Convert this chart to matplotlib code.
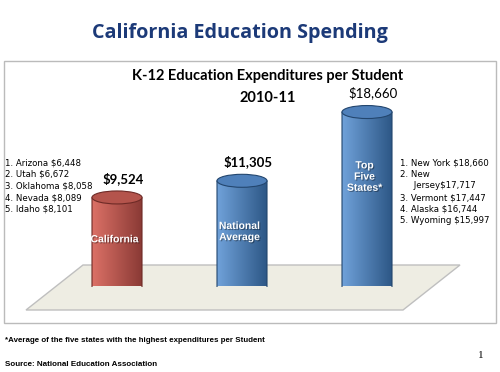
import numpy as np
import matplotlib
matplotlib.use('Agg')
import matplotlib.pyplot as plt
from matplotlib.patches import Ellipse, PathPatch, Polygon, Rectangle
from matplotlib.path import Path
import matplotlib.patheffects as pe
from matplotlib.colors import to_rgb


# Dados do gráfico
categorias = ['California', 'National\nAverage', 'Top\nFive\nStates*']
valores = [9524, 11305, 18660]
rotulos_valor = ['$9,524', '$11,305', '$18,660']
estados_baixo = ['1. Arizona $6,448', '2. Utah $6,672', '3. Oklahoma $8,058',
                 '4. Nevada $8,089', '5. Idaho $8,101']
estados_alto = ['1. New York $18,660', '2. New', '     Jersey$17,717',
                '3. Vermont $17,447', '4. Alaska $16,744', '5. Wyoming $15,997']

# Estilos
cores = [('#DC7167', '#8A3A35', '#B4544C', '#6E2A26'),
         ('#70A2DA', '#2D5786', '#4F80BA', '#23466E'),
         ('#70A2DA', '#2D5786', '#4F80BA', '#23466E')]
frac_rotulo = [0.53, 0.52, 0.63]
negrito_valor = [True, True, False]
largura = 0.4
alt_elipse = 1390
fonte_estreita = ['Liberation Sans Narrow', 'Liberation Sans']


def cilindro(ax, x, h, cor_esq, cor_dir, cor_topo, cor_borda):
    w = largura / 2
    t = np.linspace(np.pi, 2 * np.pi, 80)
    xs = np.concatenate([[x - w], x + w * np.cos(t), [x + w]])
    ys = np.concatenate([[h], alt_elipse / 2 * np.sin(t), [h]])
    verts = list(zip(xs, ys)) + [(x - w, h)]
    codes = [Path.MOVETO] + [Path.LINETO] * (len(verts) - 2) + [Path.CLOSEPOLY]
    corpo = PathPatch(Path(verts, codes), facecolor='none', edgecolor=cor_borda, lw=0.8, zorder=3)
    ax.add_patch(corpo)
    c1, c2 = np.array(to_rgb(cor_esq)), np.array(to_rgb(cor_dir))
    s = np.linspace(0, 1, 200)[:, None]
    grad = (c1 * (1 - s) + c2 * s)[None, :, :]
    im = ax.imshow(grad, extent=(x - w, x + w, -alt_elipse, h), aspect='auto',
                   origin='lower', zorder=2)
    im.set_clip_path(corpo)
    ax.add_patch(Ellipse((x, h), 2 * w, alt_elipse, facecolor=cor_topo,
                         edgecolor=cor_borda, lw=0.8, zorder=4))


fig = plt.figure(figsize=(5, 3.72), dpi=100)

# Camada de fundo em pixels
bg = fig.add_axes([0, 0, 1, 1])
bg.set_xlim(0, 500)
bg.set_ylim(372, 0)
bg.axis('off')

bg.text(240, 33, 'California Education Spending', ha='center', va='center',
        fontsize=14.2, fontweight='bold', color='#1C3A78', family='Open Sans')
bg.add_patch(Rectangle((4, 61), 492, 262, facecolor='white', edgecolor='#BBBBBB', lw=1))
bg.add_patch(Polygon([(83, 265), (460, 265), (403, 310), (26, 310)], closed=True,
                     facecolor='#EEEDE3', edgecolor='#BFBFBF', lw=1))
bg.text(268, 76, 'K-12 Education Expenditures per Student', ha='center', va='center',
        fontsize=10.5, fontweight='bold', family='Lato')
bg.text(268, 98, '2010-11', ha='center', va='center', fontsize=10.5,
        fontweight='bold', family='Lato')

for i, s in enumerate(estados_baixo):
    bg.text(5, 163 + i * 11.5, s, ha='left', va='center', fontsize=6.2, family='DejaVu Sans')
for i, s in enumerate(estados_alto):
    bg.text(400, 163 + i * 11.5, s, ha='left', va='center', fontsize=6.2, family='DejaVu Sans')

bg.text(5, 341, '*Average of the five states with the highest expenditures per Student',
        ha='left', va='center', fontsize=5.7, fontweight='bold', family=fonte_estreita)
bg.text(5, 364, 'Source: National Education Association', ha='left', va='center',
        fontsize=5.8, fontweight='bold', family=fonte_estreita)
bg.text(481, 356, '1', ha='center', va='center', fontsize=8, family='Liberation Serif')

# Eixo das barras
ax = fig.add_axes([54.5 / 500, (372 - 286.5) / 372, 375 / 500, 226.5 / 372])
ax.patch.set_alpha(0)
for i, v in enumerate(valores):
    cilindro(ax, i, v, *cores[i])
    ax.annotate(rotulos_valor[i], xy=(i, v), xytext=(6, 19), textcoords='offset pixels',
                ha='center', va='center', fontsize=9.5,
                fontweight='bold' if negrito_valor[i] else 'normal', family='Lato')
    ax.text(i - 0.02, v * frac_rotulo[i], categorias[i], ha='center', va='center',
            color='white', fontsize=7.5, fontweight='bold', linespacing=1.15,
            family=fonte_estreita, zorder=5,
            path_effects=[pe.withSimplePatchShadow(offset=(0.8, -0.8), shadow_rgbFace='black', alpha=0.35)])

ax.set_xlim(-0.5, 2.5)
ax.set_ylim(0, 24225)
ax.axis('off')

fig.savefig('out.png', dpi=100)
